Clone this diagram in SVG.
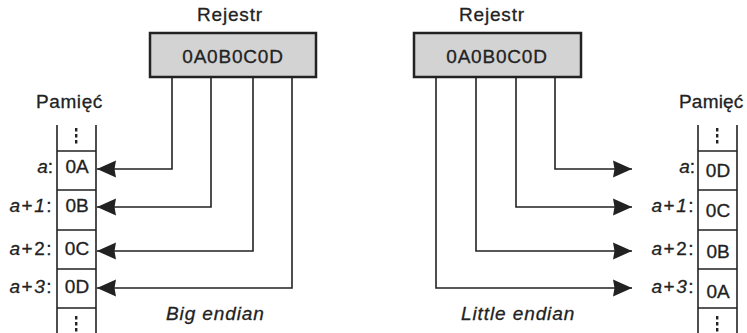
<svg xmlns="http://www.w3.org/2000/svg" width="747" height="333" viewBox="0 0 747 333">
<style>
text{font-family:"Liberation Sans",Arial,sans-serif;font-size:19px;fill:#222;stroke:#222;stroke-width:0.3;}
.c{text-anchor:middle;letter-spacing:0.8px;}
.i{font-style:italic;}
.reg{fill:#d3d3d3;stroke:#222;stroke-width:2.5;}
.mem{fill:none;stroke:#222;stroke-width:1.6;}
.con{fill:none;stroke:#222;stroke-width:1.6;}
.dot{fill:#222;}
</style>
<defs>
<marker id="ah" markerUnits="userSpaceOnUse" markerWidth="22" markerHeight="20" refX="19" refY="8.5" orient="auto" overflow="visible">
<path d="M0,0 L19,8.5 L0,17 L1.5,8.5 Z" fill="#222"/>
</marker>
</defs>

<g id="reg-big">
<text class="c" x="230" y="21">Rejestr</text>
<rect class="reg" x="150" y="33" width="166" height="44"/>
<text class="c" x="233" y="63">0A0B0C0D</text>
</g>

<g id="reg-little">
<text class="c" x="492" y="21">Rejestr</text>
<rect class="reg" x="414" y="33" width="167" height="44"/>
<text class="c" x="497" y="63">0A0B0C0D</text>
</g>

<g id="mem-big">
<text x="36" y="108" letter-spacing="0.6">Pamięć</text>
<path class="mem" d="M57,125 V333 M96,125 V333 M57,151 H96 M57,190 H96 M57,230 H96 M57,269 H96 M57,308 H96"/>
<rect class="dot" x="75" y="128" width="2.4" height="3.5"/>
<rect class="dot" x="75" y="134" width="2.4" height="3.5"/>
<rect class="dot" x="75" y="140" width="2.4" height="3.5"/>
<rect class="dot" x="75" y="316" width="2.4" height="3.5"/>
<rect class="dot" x="75" y="322" width="2.4" height="3.5"/>
<rect class="dot" x="75" y="328" width="2.4" height="3.5"/>
<text x="77" y="173" text-anchor="middle">0A</text>
<text x="77" y="212" text-anchor="middle">0B</text>
<text x="77" y="255" text-anchor="middle">0C</text>
<text x="77" y="293" text-anchor="middle">0D</text>
<text x="53" y="173" text-anchor="end"><tspan class="i">a</tspan>:</text>
<text x="53" y="212" text-anchor="end" letter-spacing="1.5"><tspan class="i">a</tspan>+<tspan class="i">1</tspan>:</text>
<text x="53" y="255" text-anchor="end" letter-spacing="1.5"><tspan class="i">a</tspan>+2:</text>
<text x="53" y="293" text-anchor="end" letter-spacing="1.5"><tspan class="i">a</tspan>+<tspan class="i">3</tspan>:</text>
</g>

<g id="mem-little">
<text x="679" y="108" letter-spacing="0.2">Pamięć</text>
<path class="mem" d="M698,125 V333 M737,125 V333 M698,151 H737 M698,190 H737 M698,230 H737 M698,269 H737 M698,308 H737"/>
<rect class="dot" x="716" y="128" width="2.4" height="3.5"/>
<rect class="dot" x="716" y="134" width="2.4" height="3.5"/>
<rect class="dot" x="716" y="140" width="2.4" height="3.5"/>
<rect class="dot" x="716" y="316" width="2.4" height="3.5"/>
<rect class="dot" x="716" y="322" width="2.4" height="3.5"/>
<rect class="dot" x="716" y="328" width="2.4" height="3.5"/>
<text x="718" y="177" text-anchor="middle">0D</text>
<text x="718" y="217" text-anchor="middle">0C</text>
<text x="718" y="258" text-anchor="middle">0B</text>
<text x="718" y="298" text-anchor="middle">0A</text>
<text x="695" y="173" text-anchor="end"><tspan class="i">a</tspan>:</text>
<text x="695" y="212" text-anchor="end" letter-spacing="1.5"><tspan class="i">a</tspan>+<tspan class="i">1</tspan>:</text>
<text x="695" y="255" text-anchor="end" letter-spacing="1.5"><tspan class="i">a</tspan>+2:</text>
<text x="695" y="293" text-anchor="end" letter-spacing="1.5"><tspan class="i">a</tspan>+<tspan class="i">3</tspan>:</text>
</g>

<g id="connectors">
<path class="con" marker-end="url(#ah)" d="M172,77 V169 H97"/>
<path class="con" marker-end="url(#ah)" d="M211,77 V207 H97"/>
<path class="con" marker-end="url(#ah)" d="M253,77 V251 H97"/>
<path class="con" marker-end="url(#ah)" d="M292,77 V288 H97"/>
<path class="con" marker-end="url(#ah)" d="M555,77 V169 H632"/>
<path class="con" marker-end="url(#ah)" d="M516,77 V207 H632"/>
<path class="con" marker-end="url(#ah)" d="M476,77 V251 H632"/>
<path class="con" marker-end="url(#ah)" d="M436,77 V288 H632"/>
</g>

<g id="captions">
<text class="i" x="166" y="320" letter-spacing="0.9">Big endian</text>
<text class="i" x="461" y="320" letter-spacing="0.9">Little endian</text>
</g>
</svg>
